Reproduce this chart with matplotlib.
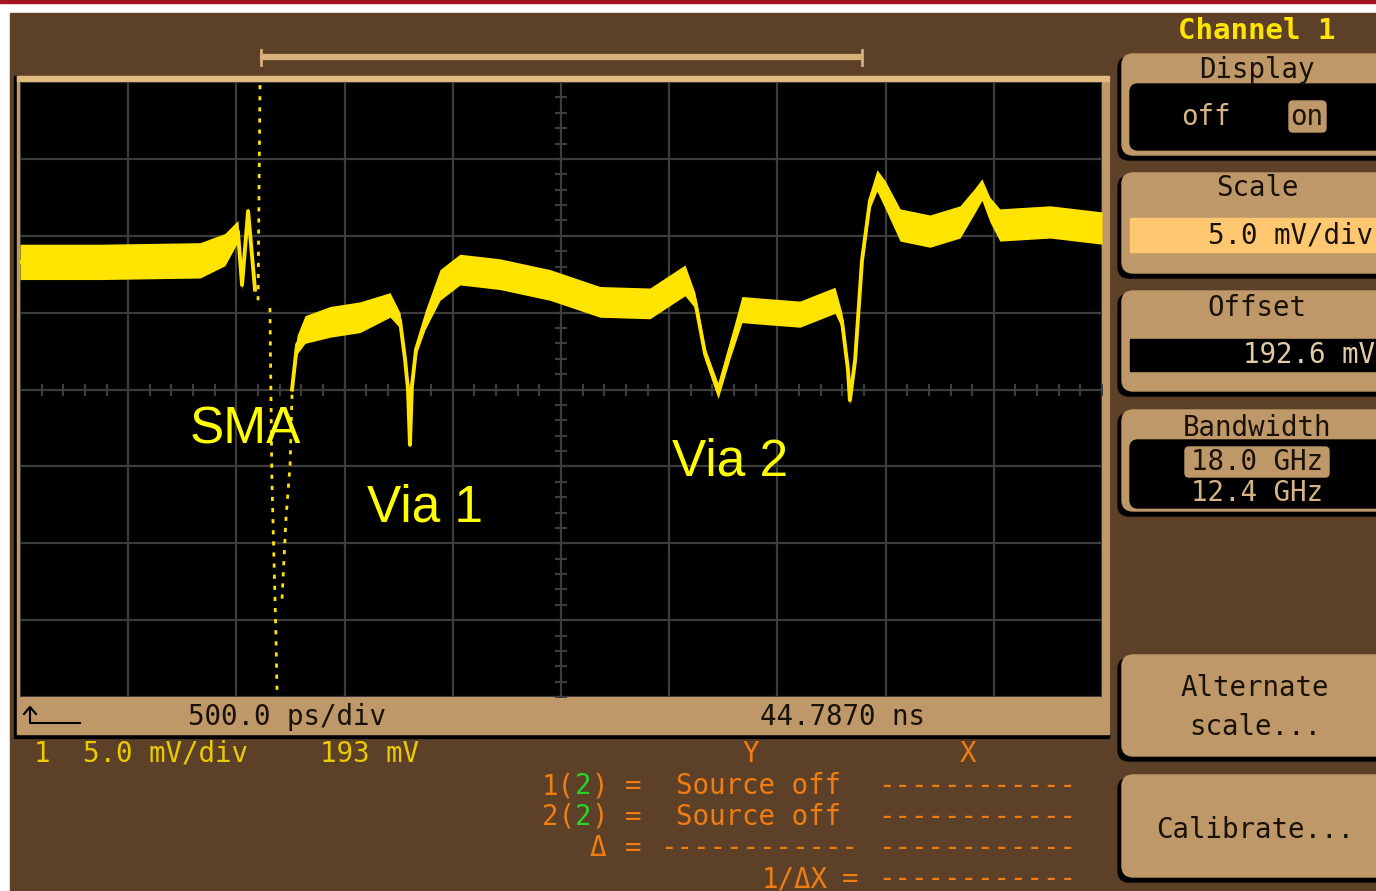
import numpy as np
import matplotlib.pyplot as plt
from matplotlib.patches import Rectangle, FancyBboxPatch

plt.rcParams['font.family'] = ['DejaVu Sans Mono']
FS = 19.8

# colours of the scope screen
BROWN = '#5C4128'
TAN = '#BE9868'
TAN_TXT = '#D6B485'
YELLOW = '#FFE400'
ORANGE = '#F07D12'
GREEN = '#2AD22A'
GRID = '#3C3C3C'
INK = '#1A1208'

# scope settings
t_left = 42.287      # ns, left edge of screen
ns_div = 0.5         # 500 ps/div
offset_mv = 192.6
mv_div = 5.0

# TDR trace before the SMA edge (time ns, voltage mV, half-width of noise band mV)
pre_t = [42.287, 42.657, 43.119, 43.234, 43.294, 43.313, 43.341, 43.373]
pre_v = [200.9, 200.9, 201.0, 201.7, 202.9, 199.4, 204.2, 199.1]
pre_w = [1.15, 1.15, 1.15, 1.05, 0.7, 0.3, 0.25, 0.25]

# TDR trace after the SMA edge
post_t = [43.544, 43.567, 43.604, 43.720, 43.858, 43.997, 44.043, 44.066,
          44.080, 44.089, 44.098, 44.117, 44.159, 44.228, 44.320, 44.505,
          44.736, 44.967, 45.198, 45.360, 45.406, 45.453, 45.513, 45.568,
          45.623, 45.707, 45.891, 46.053, 46.085, 46.113, 46.122, 46.146,
          46.178, 46.215, 46.247, 46.284, 46.354, 46.492, 46.631, 46.700,
          46.732, 46.769, 46.815, 47.047, 47.287]
post_v = [192.6, 195.5, 196.5, 197.0, 197.3, 198.1, 197.1, 194.6,
          192.6, 189.0, 192.8, 195.2, 197.1, 199.4, 200.4, 200.1,
          199.4, 198.3, 198.2, 199.7, 198.4, 194.9, 192.5, 195.2,
          197.8, 197.7, 197.5, 198.4, 197.1, 193.9, 191.9, 194.5,
          201.0, 204.9, 206.2, 205.3, 203.3, 202.9, 203.5, 204.9,
          205.6, 204.3, 203.3, 203.5, 203.1]
post_w = [0.25, 0.6, 0.9, 1.0, 1.0, 0.8, 0.5, 0.3,
          0.25, 0.25, 0.25, 0.35, 0.6, 1.0, 1.0, 1.0,
          1.0, 1.0, 1.0, 1.0, 0.5, 0.4, 0.5, 0.6,
          0.85, 0.85, 0.85, 0.85, 0.5, 0.3, 0.25, 0.25,
          0.25, 0.5, 0.7, 0.9, 1.05, 1.05, 1.05, 0.8,
          0.7, 0.8, 1.05, 1.05, 1.05]

# sparse samples of the fast SMA edge
edge1_t = [43.387, 43.396]
edge1_v = [198.4, 212.5]
edge2_t = [43.442, 43.451, 43.470, 43.475]
edge2_v = [197.9, 186.8, 176.4, 172.7]
edge3_t = [43.498, 43.516, 43.535, 43.544]
edge3_v = [179.0, 184.2, 187.7, 192.3]

# annotations (time ns, voltage mV)
labels = ['SMA', 'Via 1', 'Via 2']
label_t = [43.073, 43.890, 45.300]
label_v = [189.1, 184.0, 187.0]

fig = plt.figure(figsize=(13.76, 8.91), dpi=100)
fig.patch.set_facecolor('white')

# background axes in pixel units
bg = fig.add_axes([0, 0, 1, 1])
bg.set_xlim(0, 1376)
bg.set_ylim(891, 0)
bg.axis('off')
bg.add_patch(Rectangle((10, 13), 1366, 878, color=BROWN))
bg.add_patch(Rectangle((0, 0), 1376, 3, color='#A3161F'))

# time window bar
bg.plot([260, 863], [57, 57], color='#D8B07A', lw=4.5, solid_capstyle='butt')
bg.plot([261, 261], [50, 65], color='#D8B07A', lw=2)
bg.plot([862, 862], [50, 65], color='#D8B07A', lw=2)

# frame around the graticule
bg.add_patch(Rectangle((14, 76), 1095, 662, color='black'))
bg.add_patch(Rectangle((17, 76), 1092, 658, color=TAN))
bg.add_patch(Rectangle((17, 76), 1092, 5, color='#E2BA80'))
bg.plot([30, 30, 80], [708, 723, 723], color='black', lw=1.5)
bg.plot([24, 30, 36], [714, 707, 714], color='black', lw=1.5)
bg.text(188, 717, '500.0 ps/div', fontsize=FS, va='center', color=INK)
bg.text(760, 717, '44.7870 ns', fontsize=FS, va='center', color=INK)

# readouts below the screen
bg.text(34, 754, '1', fontsize=FS, va='center', color='#EBCB00')
bg.text(83, 754, '5.0 mV/div', fontsize=FS, va='center', color='#EBCB00')
bg.text(320, 754, '193 mV', fontsize=FS, va='center', color='#EBCB00')
bg.text(751, 754, 'Y', fontsize=FS, va='center', ha='center', color=ORANGE)
bg.text(968, 754, 'X', fontsize=FS, va='center', ha='center', color=ORANGE)
dash = '-' * 12
for row, y in zip(['1', '2'], [786, 817]):
    bg.text(542, y, row + '(', fontsize=FS, va='center', color=ORANGE)
    bg.text(575, y, '2', fontsize=FS, va='center', color=GREEN)
    bg.text(591, y, ')', fontsize=FS, va='center', color=ORANGE)
    bg.text(633, y, '=', fontsize=FS, va='center', ha='center', color=ORANGE)
    bg.text(676, y, 'Source off', fontsize=FS, va='center', color=ORANGE)
    bg.text(878, y, dash, fontsize=FS, va='center', color=ORANGE)
bg.text(598, 848, 'Δ', fontsize=FS, va='center', ha='center', color=ORANGE)
bg.text(633, 848, '=', fontsize=FS, va='center', ha='center', color=ORANGE)
bg.text(660, 848, dash, fontsize=FS, va='center', color=ORANGE)
bg.text(878, 848, dash, fontsize=FS, va='center', color=ORANGE)
bg.text(762, 879, '1/ΔX', fontsize=FS, va='center', color=ORANGE)
bg.text(850, 879, '=', fontsize=FS, va='center', ha='center', color=ORANGE)
bg.text(878, 879, dash, fontsize=FS, va='center', color=ORANGE)


# side menu
def panel(y0, y1):
    bg.add_patch(FancyBboxPatch((1118, y0 + 3), 300, y1 - y0 - 3,
                                boxstyle='round,pad=0,rounding_size=11', color='black'))
    bg.add_patch(FancyBboxPatch((1122, y0), 300, y1 - y0 - 5,
                                boxstyle='round,pad=0,rounding_size=11', color=TAN))


bg.text(1257, 31, 'Channel 1', fontsize=21, fontweight='bold', ha='center', va='center', color=YELLOW)

panel(54, 160)
bg.text(1257, 70, 'Display', fontsize=FS, ha='center', va='center', color=INK)
bg.add_patch(FancyBboxPatch((1130, 84), 260, 66, boxstyle='round,pad=0,rounding_size=8', color='black'))
bg.text(1206, 117, 'off', fontsize=FS, ha='center', va='center', color=TAN_TXT)
bg.add_patch(FancyBboxPatch((1289, 101), 37, 31, boxstyle='round,pad=0,rounding_size=4', color=TAN))
bg.text(1307, 117, 'on', fontsize=FS, ha='center', va='center', color=INK)

panel(173, 278)
bg.text(1257, 188, 'Scale', fontsize=FS, ha='center', va='center', color=INK)
bg.add_patch(Rectangle((1130, 218), 260, 34, color='#FFC870'))
bg.text(1208, 236, '5.0 mV/div', fontsize=FS, va='center', color=INK)

panel(291, 396)
bg.text(1257, 308, 'Offset', fontsize=FS, ha='center', va='center', color=INK)
bg.add_patch(Rectangle((1130, 339), 260, 32, color='black'))
bg.text(1243, 355, '192.6 mV', fontsize=FS, va='center', color='#E2CCA8')

panel(410, 516)
bg.text(1257, 428, 'Bandwidth', fontsize=FS, ha='center', va='center', color=INK)
bg.add_patch(FancyBboxPatch((1130, 440), 260, 68, boxstyle='round,pad=0,rounding_size=8', color='black'))
bg.add_patch(FancyBboxPatch((1185, 447), 144, 30, boxstyle='round,pad=0,rounding_size=4', color=TAN))
bg.text(1257, 462, '18.0 GHz', fontsize=FS, ha='center', va='center', color=INK)
bg.text(1257, 493, '12.4 GHz', fontsize=FS, ha='center', va='center', color=TAN_TXT)

panel(655, 761)
bg.text(1255, 688, 'Alternate', fontsize=FS, ha='center', va='center', color=INK)
bg.text(1255, 727, 'scale...', fontsize=FS, ha='center', va='center', color=INK)

panel(775, 882)
bg.text(1255, 830, 'Calibrate...', fontsize=FS, ha='center', va='center', color=INK)

# scope screen
ax = fig.add_axes([20 / 1376, 1 - 697 / 891, 1082 / 1376, 615 / 891])
ax.set_facecolor('black')
x_lo, x_hi = t_left, t_left + 10 * ns_div
y_lo, y_hi = offset_mv - 4 * mv_div, offset_mv + 4 * mv_div
for i in range(11):
    ax.axvline(x_lo + i * ns_div, color=GRID, lw=1.6, zorder=1)
for j in range(9):
    ax.axhline(y_lo + j * mv_div, color=GRID, lw=1.6, zorder=1)
x_c = (x_lo + x_hi) / 2
ax.plot(np.linspace(x_lo, x_hi, 51), [offset_mv] * 51, ls='none', marker='|',
        ms=9, mew=1.6, color=GRID, zorder=1)
ax.plot([x_c] * 41, np.linspace(y_lo, y_hi, 41), ls='none', marker='_',
        ms=9, mew=1.6, color=GRID, zorder=1)

for tt, vv, ww in [(pre_t, pre_v, pre_w), (post_t, post_v, post_w)]:
    t = np.array(tt)
    v = np.array(vv)
    w = np.array(ww)
    ax.fill_between(t, v - w, v + w, color=YELLOW, lw=0, zorder=3)
    ax.plot(t, v, color=YELLOW, lw=2.8, zorder=3)
for et, ev in [(edge1_t, edge1_v), (edge2_t, edge2_v), (edge3_t, edge3_v)]:
    ax.plot(et, ev, color=YELLOW, lw=2, ls=(0, (1.5, 2.5)), zorder=3)

for s, lt, lv in zip(labels, label_t, label_v):
    ax.text(lt, lv, s, fontsize=37, family=['Liberation Sans'], color='#FFFF00',
            va='baseline', zorder=4)

ax.set_xlim(x_lo, x_hi)
ax.set_ylim(y_lo, y_hi)
ax.set_xticks([])
ax.set_yticks([])
for sp in ax.spines.values():
    sp.set_visible(False)

fig.savefig('out.png', dpi=100)
